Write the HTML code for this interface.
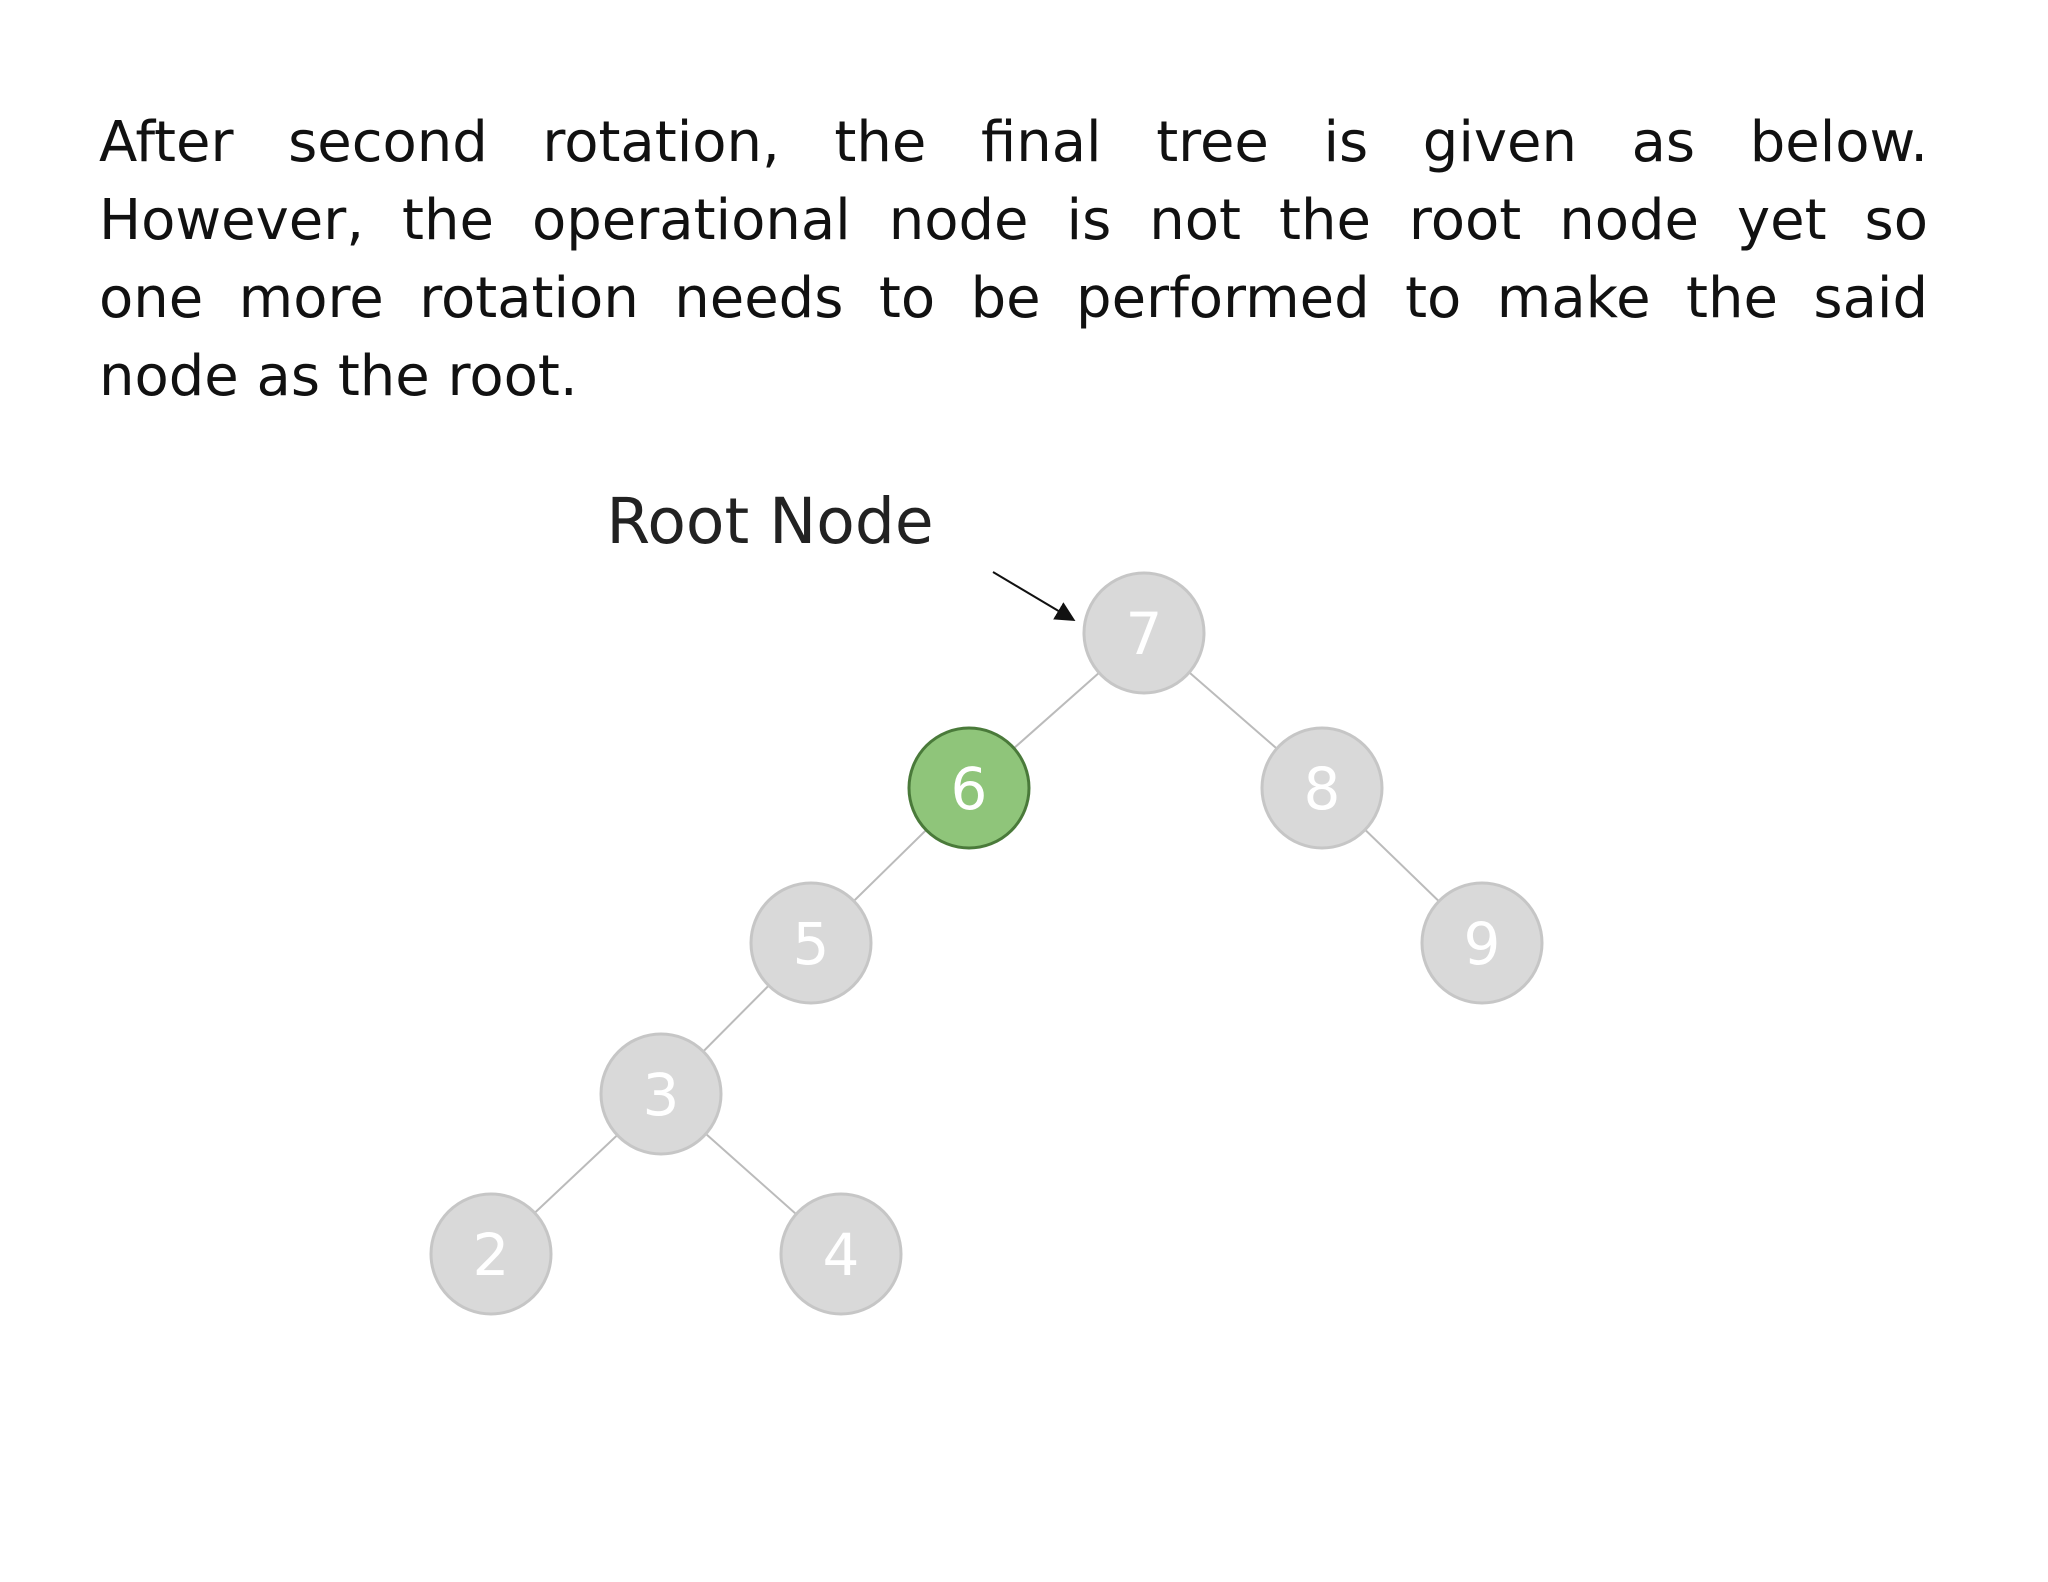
<!DOCTYPE html>
<html><head><style>
body{margin:0;width:2048px;height:1582px;background:#fff;overflow:hidden}
.t{position:absolute;left:99px;top:104px;width:1829px;font-family:"DejaVu Sans","Liberation Sans",sans-serif;font-size:56px;line-height:78px;color:#111}
.t div{text-align:justify;text-align-last:justify;white-space:nowrap;}
.t div.l{text-align-last:left}
</style></head><body>
<div class="t">
<div>After second rotation, the final tree is given as below.</div>
<div>However, the operational node is not the root node yet so</div>
<div>one more rotation needs to be performed to make the said</div>
<div class="l">node as the root.</div>
</div>
<svg style="position:absolute;left:0;top:0" width="2048" height="1582">
<defs><marker id="a" markerWidth="10" markerHeight="10" refX="8" refY="5" orient="auto"><path d="M0,0 L10,5 L0,10z" fill="#111"/></marker></defs>
<g stroke="#bbb" stroke-width="2">
<line x1="1144" y1="633" x2="969" y2="788"/><line x1="1144" y1="633" x2="1322" y2="788"/>
<line x1="969" y1="788" x2="811" y2="943"/><line x1="1322" y1="788" x2="1482" y2="943"/>
<line x1="811" y1="943" x2="661" y2="1094"/><line x1="661" y1="1094" x2="491" y2="1254"/><line x1="661" y1="1094" x2="841" y2="1254"/>
</g>
<line x1="993" y1="572" x2="1072" y2="619" stroke="#111" stroke-width="2" marker-end="url(#a)"/>
<text x="770" y="543" font-family="DejaVu Sans,Liberation Sans,sans-serif" font-size="63" fill="#222" text-anchor="middle">Root Node</text>
<g font-family="DejaVu Sans,Liberation Sans,sans-serif" font-size="58" fill="#fff" text-anchor="middle">
<circle cx="1144" cy="633" r="60" fill="#d9d9d9" stroke="#c6c6c6" stroke-width="3"/><text x="1144" y="654">7</text>
<circle cx="969" cy="788" r="60" fill="#8fc57a" stroke="#4a7a3a" stroke-width="3"/><text x="969" y="809">6</text>
<circle cx="1322" cy="788" r="60" fill="#d9d9d9" stroke="#c6c6c6" stroke-width="3"/><text x="1322" y="809">8</text>
<circle cx="811" cy="943" r="60" fill="#d9d9d9" stroke="#c6c6c6" stroke-width="3"/><text x="811" y="964">5</text>
<circle cx="1482" cy="943" r="60" fill="#d9d9d9" stroke="#c6c6c6" stroke-width="3"/><text x="1482" y="964">9</text>
<circle cx="661" cy="1094" r="60" fill="#d9d9d9" stroke="#c6c6c6" stroke-width="3"/><text x="661" y="1115">3</text>
<circle cx="491" cy="1254" r="60" fill="#d9d9d9" stroke="#c6c6c6" stroke-width="3"/><text x="491" y="1275">2</text>
<circle cx="841" cy="1254" r="60" fill="#d9d9d9" stroke="#c6c6c6" stroke-width="3"/><text x="841" y="1275">4</text>
</g>
</svg>
</body></html>
